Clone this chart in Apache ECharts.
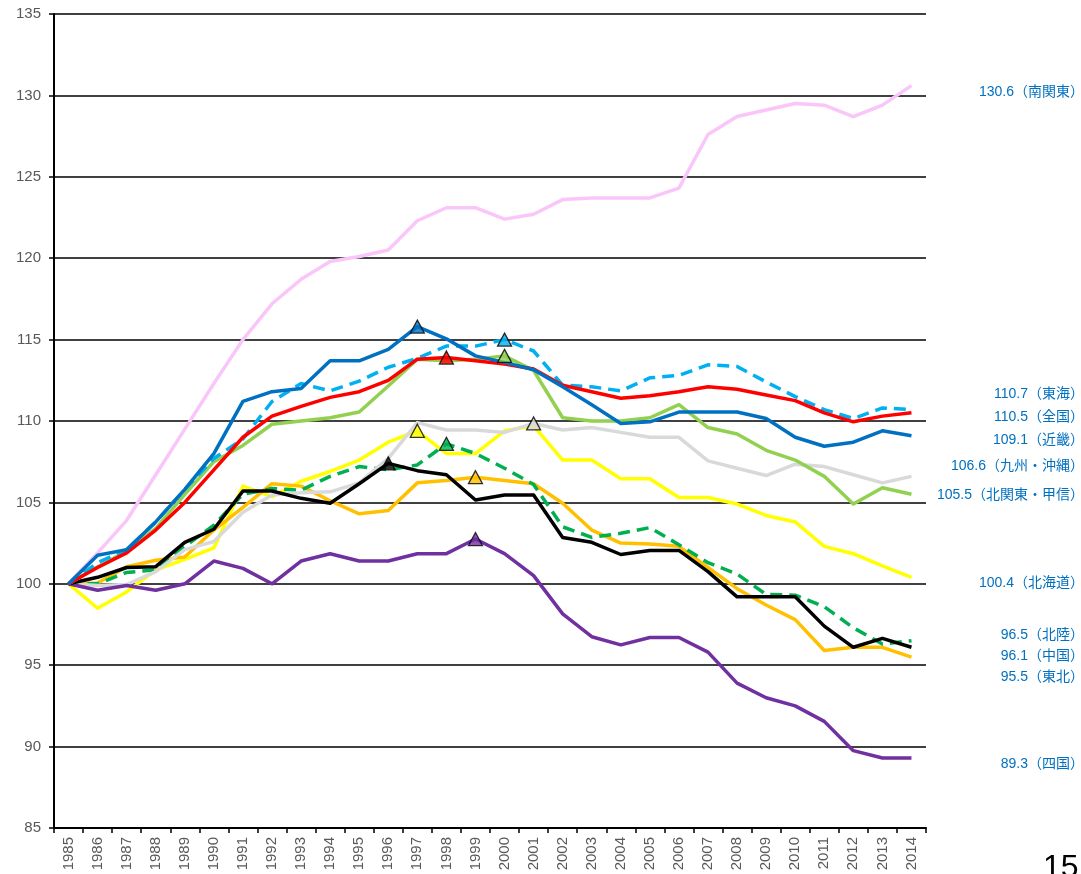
<!DOCTYPE html>
<html>
<head>
<meta charset="utf-8">
<script src="https://cdn.jsdelivr.net/npm/echarts@6/dist/echarts.min.js"></script>
<style>
  html, body { margin: 0; padding: 0; background: #fff; }
  #chart { width: 1081px; height: 874px; }
</style>
</head>
<body>
<div id="chart"></div>
<script>
// Years on the horizontal axis
const years = [1985,1986,1987,1988,1989,1990,1991,1992,1993,1994,1995,1996,1997,1998,1999,
               2000,2001,2002,2003,2004,2005,2006,2007,2008,2009,2010,2011,2012,2013,2014];

// Index values by region (1985 = 100)
const minamiKanto = [100,101.9,103.9,106.7,109.5,112.3,115.0,117.2,118.7,119.8,120.1,120.5,122.3,123.1,123.1,
                     122.4,122.7,123.6,123.7,123.7,123.7,124.3,127.6,128.7,129.1,129.5,129.4,128.7,129.4,130.6];
const tokai       = [100,101.3,102.1,103.8,105.8,107.7,108.9,111.2,112.3,111.85,112.45,113.3,113.85,114.6,114.6,
                     115.0,114.3,112.2,112.1,111.85,112.65,112.8,113.45,113.35,112.4,111.5,110.7,110.15,110.8,110.7];
const zenkoku     = [100,101.0,101.9,103.3,105.0,107.0,109.0,110.3,110.9,111.45,111.8,112.5,113.8,113.9,113.7,
                     113.5,113.2,112.2,111.8,111.4,111.55,111.8,112.1,111.95,111.6,111.25,110.5,109.95,110.3,110.5];
const kinki       = [100,101.75,102.1,103.8,105.8,108.0,111.2,111.8,112.0,113.7,113.7,114.4,115.8,115.05,114.0,
                     113.6,113.15,112.1,111.0,109.85,109.95,110.55,110.55,110.55,110.15,109.0,108.45,108.7,109.4,109.1];
const kyushu      = [100,99.9,99.95,100.75,102.1,102.6,104.4,105.45,105.6,105.65,106.2,107.7,109.9,109.45,109.45,
                     109.3,109.85,109.45,109.6,109.3,109.0,109.0,107.55,107.1,106.65,107.35,107.2,106.7,106.2,106.6];
const kitaKanto   = [100,101.05,102.0,103.4,105.5,107.5,108.5,109.8,110.0,110.2,110.55,112.15,113.8,113.7,113.8,
                     114.0,113.1,110.2,110.0,110.0,110.2,111.0,109.6,109.2,108.2,107.6,106.6,104.9,105.9,105.5];
const hokkaido    = [100,98.5,99.5,100.85,101.5,102.2,106.0,105.35,106.3,106.9,107.6,108.7,109.4,108.0,108.0,
                     109.4,109.7,107.6,107.6,106.45,106.45,105.3,105.3,104.9,104.2,103.8,102.3,101.85,101.1,100.4];
const hokuriku    = [100,100.0,100.7,100.85,102.3,103.6,105.5,105.85,105.75,106.6,107.2,107.0,107.3,108.6,108.0,
                     107.1,106.1,103.5,102.85,103.1,103.45,102.4,101.3,100.6,99.35,99.3,98.6,97.3,96.3,96.5];
const chugoku     = [100,100.4,101.0,101.05,102.55,103.35,105.7,105.7,105.25,104.95,106.15,107.4,106.95,106.7,105.15,
                     105.45,105.45,102.85,102.55,101.8,102.05,102.05,100.75,99.2,99.2,99.2,97.4,96.1,96.65,96.1];
const tohoku      = [100,100.05,101.05,101.45,101.65,103.3,104.7,106.15,106.0,105.1,104.3,104.5,106.2,106.35,106.55,
                     106.35,106.15,104.95,103.3,102.5,102.45,102.3,101.0,99.7,98.7,97.8,95.9,96.1,96.1,95.5];
const shikoku     = [100,99.6,99.9,99.6,100.0,101.4,100.95,100.0,101.4,101.85,101.4,101.4,101.85,101.85,102.75,
                     101.85,100.5,98.15,96.75,96.25,96.7,96.7,95.8,93.9,93.0,92.5,91.55,89.75,89.3,89.3];

// Year marked with a triangle on each line (null = no marker)
const markYears = {
  '南関東': null, '東海': 2000, '全国': 1998, '近畿': 1997, '九州・沖縄': 2001, '北関東・甲信': 2000,
  '北海道': 1997, '北陸': 1998, '中国': 1996, '東北': 1999, '四国': 1999
};

// Y axis range
const yMin = 85, yMax = 135, yStep = 5;

// Drawing order (later = on top), with colours, dash style and label row
const lines = [
  { name: '南関東',       data: minamiKanto, color: '#FAC6FA', dashed: false, labelY: 92 },
  { name: '北海道',       data: hokkaido,    color: '#FFFF00', dashed: false, labelY: 583 },
  { name: '東北',         data: tohoku,      color: '#FFC000', dashed: false, labelY: 677 },
  { name: '北陸',         data: hokuriku,    color: '#00B050', dashed: true,  labelY: 635 },
  { name: '九州・沖縄',   data: kyushu,      color: '#D9D9D9', dashed: false, labelY: 466 },
  { name: '四国',         data: shikoku,     color: '#7030A0', dashed: false, labelY: 764 },
  { name: '中国',         data: chugoku,     color: '#000000', dashed: false, labelY: 656 },
  { name: '北関東・甲信', data: kitaKanto,   color: '#92D050', dashed: false, labelY: 495 },
  { name: '東海',         data: tokai,       color: '#00B0F0', dashed: true,  labelY: 394 },
  { name: '全国',         data: zenkoku,     color: '#FF0000', dashed: false, labelY: 417 },
  { name: '近畿',         data: kinki,       color: '#0070C0', dashed: false, labelY: 440 }
];

const series = lines.map(l => ({
  name: l.name,
  type: 'line',
  data: l.data,
  symbol: 'none',
  smooth: false,
  z: 2,
  lineStyle: { color: l.color, width: 3.5, type: l.dashed ? [12, 7] : 'solid', join: 'round' }
}));

// Triangle markers drawn above all lines
const markerData = [];
lines.forEach(l => {
  const yr = markYears[l.name];
  if (yr == null) return;
  const idx = years.indexOf(yr);
  markerData.push({
    value: [idx, l.data[idx]],
    itemStyle: { color: l.color, borderColor: '#000', borderWidth: 1.3 }
  });
});
series.push({
  type: 'scatter',
  data: markerData,
  symbol: 'triangle',
  symbolSize: [14, 13],
  z: 5
});

// End-of-line value labels on the right
const labelFont = '14px "Liberation Sans", "Noto Sans CJK JP", sans-serif';
const graphics = lines.map(l => ({
  type: 'text',
  x: 1084,
  y: l.labelY,
  style: {
    text: l.data[l.data.length - 1].toFixed(1) + '（' + l.name + '）',
    fill: '#0070C0',
    font: labelFont,
    align: 'right',
    verticalAlign: 'middle'
  }
}));
// Page number
graphics.push({
  type: 'text',
  x: 1043,
  y: 852,
  style: { text: '15', fill: '#000', font: '32px "Liberation Sans", sans-serif', align: 'left', verticalAlign: 'top' }
});

const chart = echarts.init(document.getElementById('chart'), null, { renderer: 'canvas' });
chart.setOption({
  animation: false,
  backgroundColor: '#fff',
  grid: { left: 54, right: 155, top: 14, bottom: 46, containLabel: false },
  xAxis: {
    type: 'category',
    data: years.map(String),
    boundaryGap: true,
    axisLine: { onZero: false, lineStyle: { color: '#000', width: 2 } },
    axisTick: { show: true, interval: 0, length: 5, alignWithLabel: false, lineStyle: { color: '#000', width: 1.5 } },
    axisLabel: {
      interval: 0, rotate: 90, margin: 9, color: '#595959', fontSize: 15,
      fontFamily: '"Liberation Sans", sans-serif'
    },
    splitLine: { show: false }
  },
  yAxis: {
    type: 'value',
    min: yMin, max: yMax, interval: yStep,
    axisLine: { show: true, lineStyle: { color: '#000', width: 2 } },
    axisTick: { show: true, length: 5, lineStyle: { color: '#000', width: 1.5 } },
    axisLabel: { margin: 13, color: '#595959', fontSize: 15, fontFamily: '"Liberation Sans", sans-serif' },
    splitLine: { show: true, lineStyle: { color: '#000', width: 1.5 } }
  },
  series: series,
  graphic: graphics
});
</script>
</body>
</html>
